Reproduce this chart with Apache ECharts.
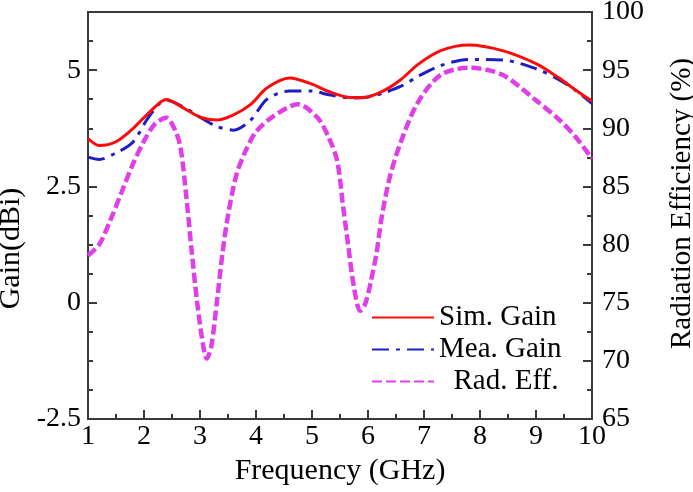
<!DOCTYPE html>
<html>
<head>
<meta charset="utf-8">
<script src="https://cdn.jsdelivr.net/npm/echarts@6/dist/echarts.min.js"></script>
<style>html,body{margin:0;padding:0;background:#fff}#c{width:693px;height:492px}</style>
</head>
<body>
<div id="c"></div>
<script>
const freqGain = [1, 1.2, 1.5, 1.8, 2.1, 2.4, 2.7, 3.0, 3.3, 3.6, 3.9, 4.2, 4.6, 5.0, 5.3, 5.7, 6.0, 6.3, 6.6, 6.9, 7.3, 7.8, 8.4, 9.0, 9.4, 9.7, 10];
const simGain = [3.53, 3.38, 3.46, 3.74, 4.10, 4.37, 4.19, 3.99, 3.93, 4.04, 4.26, 4.62, 4.83, 4.70, 4.54, 4.41, 4.43, 4.57, 4.81, 5.13, 5.42, 5.54, 5.42, 5.14, 4.84, 4.58, 4.33];
const meaGain = [3.13, 3.08, 3.22, 3.45, 4.02, 4.36, 4.21, 3.99, 3.79, 3.71, 3.92, 4.38, 4.55, 4.55, 4.47, 4.40, 4.42, 4.52, 4.66, 4.87, 5.10, 5.23, 5.22, 5.03, 4.80, 4.57, 4.28];
const freqEff = [1, 1.2, 1.4, 1.6, 1.8, 2.0, 2.2, 2.4, 2.55, 2.65, 2.75, 2.85, 2.95, 3.05, 3.12, 3.2, 3.3, 3.4, 3.5, 3.65, 3.8, 4.0, 4.3, 4.75, 5.1, 5.3, 5.45, 5.55, 5.65, 5.75, 5.86, 5.95, 6.05, 6.15, 6.25, 6.4, 6.6, 6.9, 7.3, 7.8, 8.4, 9.0, 9.4, 9.7, 10];
const radEff = [79.05, 80.0, 82.1, 84.5, 86.9, 88.9, 90.4, 90.9, 89.9, 88.4, 84.4, 79.5, 75.0, 71.5, 70.2, 71.2, 75.0, 79.2, 82.5, 86.0, 87.9, 89.7, 91.0, 92.07, 90.9, 89.2, 87.2, 83.5, 79.8, 76.3, 74.3, 74.9, 76.8, 79.2, 82.5, 86.0, 89.0, 92.3, 94.6, 95.2, 94.6, 92.4, 90.8, 89.3, 87.4];
const gainTicks = { min: -2.5, max: 6.25, step: 2.5, minorStep: 0.625 };
const effTicks = { min: 65, max: 100, step: 5 };
const seriesNames = ['Sim. Gain', 'Mea. Gain', 'Rad. Eff.'];

const font = 'Liberation Serif';
const axisCol = '#3a3a3a';
const pair = (xs, ys) => xs.map((x, i) => [x, ys[i]]);
const ts = (size, extra) => Object.assign({ fontFamily: font, fontSize: size, fontWeight: 'normal', fontStyle: 'normal', color: '#000' }, extra || {});

const chart = echarts.init(document.getElementById('c'));
chart.setOption({
  animation: false,
  textStyle: { fontFamily: font, color: '#000' },
  grid: { left: 88, right: 101, top: 12, bottom: 73, show: true, borderColor: axisCol, borderWidth: 2, containLabel: false, outerBoundsMode: 'none' },
  legend: {
    orient: 'vertical', left: 366, top: 298, itemWidth: 62, itemHeight: 14, itemGap: 3,
    itemStyle: { opacity: 0 },
    textStyle: ts(29, { lineHeight: 29 }),
    formatter: n => n === 'Rad. Eff.' ? '  ' + n : n,
    data: seriesNames
  },
  xAxis: {
    type: 'value', min: 1, max: 10, interval: 1, position: 'bottom',
    name: 'Frequency (GHz)', nameLocation: 'middle', nameGap: 35,
    nameTextStyle: ts(30),
    axisLine: { onZero: false, lineStyle: { color: axisCol, width: 2 } },
    axisTick: { inside: true, length: 9, lineStyle: { color: axisCol, width: 2 } },
    minorTick: { show: true, splitNumber: 2, length: 5, lineStyle: { color: axisCol, width: 2 } },
    axisLabel: ts(28, { margin: 4 }),
    splitLine: { show: false }
  },
  yAxis: [
    {
      type: 'value', position: 'left', min: gainTicks.min, max: gainTicks.max, interval: gainTicks.step,
      name: 'Gain(dBi)', nameLocation: 'middle', nameGap: 57,
      nameTextStyle: ts(30, { padding: [0, 66, 0, 0] }),
      axisLine: { show: true, onZero: false, lineStyle: { color: axisCol, width: 2 } },
      axisTick: { inside: true, length: 9, lineStyle: { color: axisCol, width: 2 } },
      axisLabel: ts(28, { margin: 7, showMaxLabel: false }),
      splitLine: { show: false }
    },
    {
      type: 'value', position: 'right', min: effTicks.min, max: effTicks.max, interval: effTicks.step,
      name: 'Radiation Efficiency (%)', nameLocation: 'middle', nameGap: 76,
      nameTextStyle: ts(29, { padding: [0, 0, 0, 24] }),
      axisLine: { show: true, onZero: false, lineStyle: { color: axisCol, width: 2 } },
      axisTick: { inside: true, length: 9, lineStyle: { color: axisCol, width: 2 } },
      minorTick: { show: true, splitNumber: 2, length: 5, lineStyle: { color: axisCol, width: 2 } },
      axisLabel: ts(28, { margin: 10 }),
      splitLine: { show: false }
    },
    {
      type: 'value', position: 'left', min: gainTicks.min, max: gainTicks.max, interval: gainTicks.minorStep,
      axisLine: { show: false, onZero: false },
      axisTick: { show: true, inside: true, length: 5, lineStyle: { color: axisCol, width: 2 } },
      axisLabel: { show: false },
      splitLine: { show: false }
    }
  ],
  series: [
    {
      name: seriesNames[0], type: 'line', yAxisIndex: 0, smooth: 0.3, symbol: 'none',
      data: pair(freqGain, simGain), z: 4,
      lineStyle: { color: '#ff0a0a', width: 3 }, itemStyle: { color: '#ff0a0a' }
    },
    {
      name: seriesNames[1], type: 'line', yAxisIndex: 0, smooth: 0.3, symbol: 'none',
      data: pair(freqGain, meaGain), z: 3,
      lineStyle: { color: '#1e1ec4', width: 3, type: [17, 7, 4, 7] }, itemStyle: { color: '#1e1ec4' }
    },
    {
      name: seriesNames[2], type: 'line', yAxisIndex: 1, smooth: 0.3, symbol: 'none',
      data: pair(freqEff, radEff), z: 2,
      lineStyle: { color: '#e03ee8', width: 4.5, type: [10, 4] }, itemStyle: { color: '#e03ee8' }
    }
  ]
});
</script>
</body>
</html>
